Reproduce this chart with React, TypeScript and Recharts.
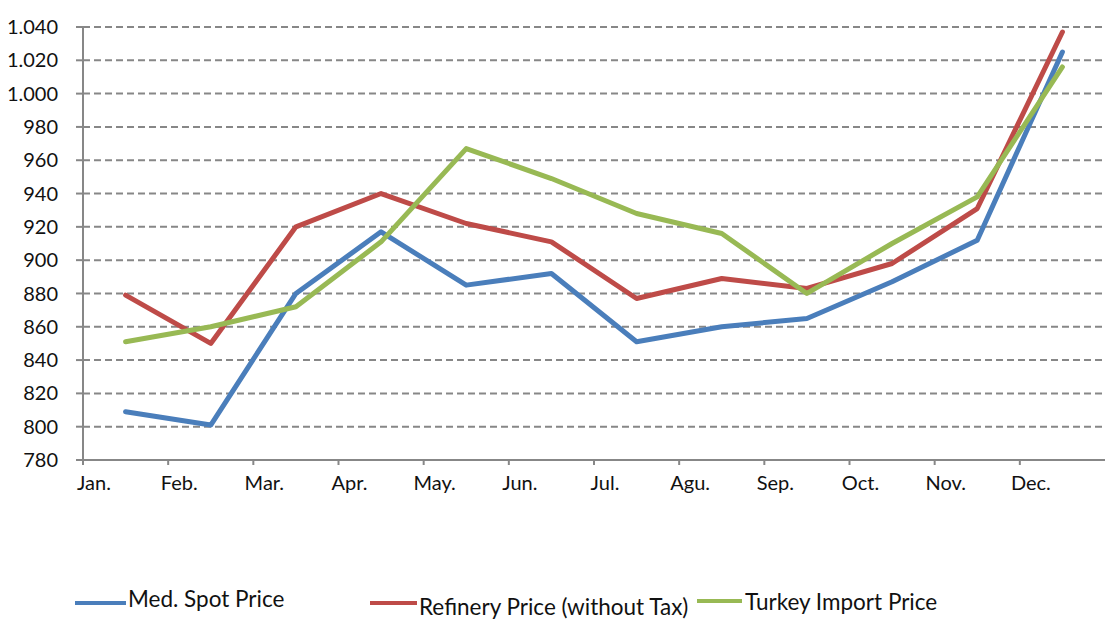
import React from 'react'
import {
  LineChart,
  Line,
  XAxis,
  YAxis,
  CartesianGrid,
  Legend,
} from 'recharts'

const months = ['Jan.', 'Feb.', 'Mar.', 'Apr.', 'May.', 'Jun.', 'Jul.', 'Agu.', 'Sep.', 'Oct.', 'Nov.', 'Dec.']
const medSpot = [809, 801, 880, 917, 885, 892, 851, 860, 865, 887, 912, 1025]
const refinery = [879, 850, 920, 940, 922, 911, 877, 889, 883, 898, 931, 1037]
const turkeyImport = [851, 860, 872, 911, 967, 949, 928, 916, 880, 910, 938, 1016]
const yTicks = [780, 800, 820, 840, 860, 880, 900, 920, 940, 960, 980, 1000, 1020, 1040]

const data = months.map((m, i) => ({
  idx: i,
  month: m,
  med: medSpot[i],
  ref: refinery[i],
  tur: turkeyImport[i],
}))

const xTicks = months.map((_, i) => i - 0.5)

const FONT = 'Lato, "Open Sans", sans-serif'
const GREY = '#878787'

const fmtY = (v: number) => (v >= 1000 ? `${Math.floor(v / 1000)}.${String(v % 1000).padStart(3, '0')}` : String(v))

const MonthTick = (props: any) => {
  const { x, y, payload } = props
  const i = Math.round(payload.value + 0.5)
  return (
    <g>
      <line x1={x} y1={y - 8} x2={x} y2={y - 3} stroke={GREY} strokeWidth={2} />
      <text x={x + 11} y={y + 22} textAnchor="middle" fontFamily={FONT} fontSize={20} fill="#111">
        {months[i]}
      </text>
    </g>
  )
}

const legendLayout = [
  { key: 'med', x1: 75, x2: 126, ly: 603, tx: 128, ty: 598 },
  { key: 'ref', x1: 370, x2: 417, ly: 603, tx: 419, ty: 606 },
  { key: 'tur', x1: 697, x2: 742, ly: 601, tx: 745, ty: 601 },
]

const renderLegend = (props: any) => {
  const items = props.payload || []
  return (
    <svg width={1105} height={50} style={{ display: 'block' }}>
      {items.map((it: any) => {
        const l = legendLayout.find((p) => p.key === it.dataKey)
        if (!l) return null
        return (
          <g key={it.dataKey}>
            <line x1={l.x1} x2={l.x2} y1={l.ly - 580} y2={l.ly - 580} stroke={it.color} strokeWidth={4} />
            <text x={l.tx} y={l.ty - 580} dominantBaseline="central" fontFamily={FONT} fontSize={22.5} fill="#111">
              {it.value}
            </text>
          </g>
        )
      })}
    </svg>
  )
}

export default function App() {
  return (
    <div style={{ position: 'absolute', left: 0, top: 0, width: 1105, height: 621, background: '#fff' }}>
      <LineChart
        width={1105}
        height={621}
        data={data}
        margin={{ top: 27, right: 0, left: 0, bottom: 61 }}
      >
        <CartesianGrid vertical={false} stroke={GREY} strokeWidth={2} strokeDasharray="7 4" horizontalValues={yTicks.slice(1)} />
        <XAxis
          dataKey="idx"
          type="number"
          domain={[-0.5, 11.5]}
          ticks={xTicks}
          interval={0}
          axisLine={{ stroke: GREY, strokeWidth: 2 }}
          tickLine={false}
          tick={<MonthTick />}
          height={50}
        />
        <YAxis
          domain={[780, 1040]}
          ticks={yTicks}
          interval={0}
          width={83}
          tickFormatter={fmtY}
          axisLine={{ stroke: GREY, strokeWidth: 2 }}
          tickLine={{ stroke: GREY, strokeWidth: 2 }}
          tickSize={7}
          tickMargin={18}
          tick={{ fontFamily: FONT, fontSize: 20, fill: '#111' }}
        />
        <Line dataKey="med" name="Med. Spot Price" stroke="#4A7EBB" strokeWidth={5} dot={false} isAnimationActive={false} strokeLinejoin="round" strokeLinecap="round" />
        <Line dataKey="ref" name="Refinery Price (without Tax)" stroke="#BE4B48" strokeWidth={5} dot={false} isAnimationActive={false} strokeLinejoin="round" strokeLinecap="round" />
        <Line dataKey="tur" name="Turkey Import Price" stroke="#98B954" strokeWidth={5} dot={false} isAnimationActive={false} strokeLinejoin="round" strokeLinecap="round" />
        <Legend content={renderLegend} wrapperStyle={{ left: 0, top: 580, width: 1105, height: 50 }} />
      </LineChart>
    </div>
  )
}
